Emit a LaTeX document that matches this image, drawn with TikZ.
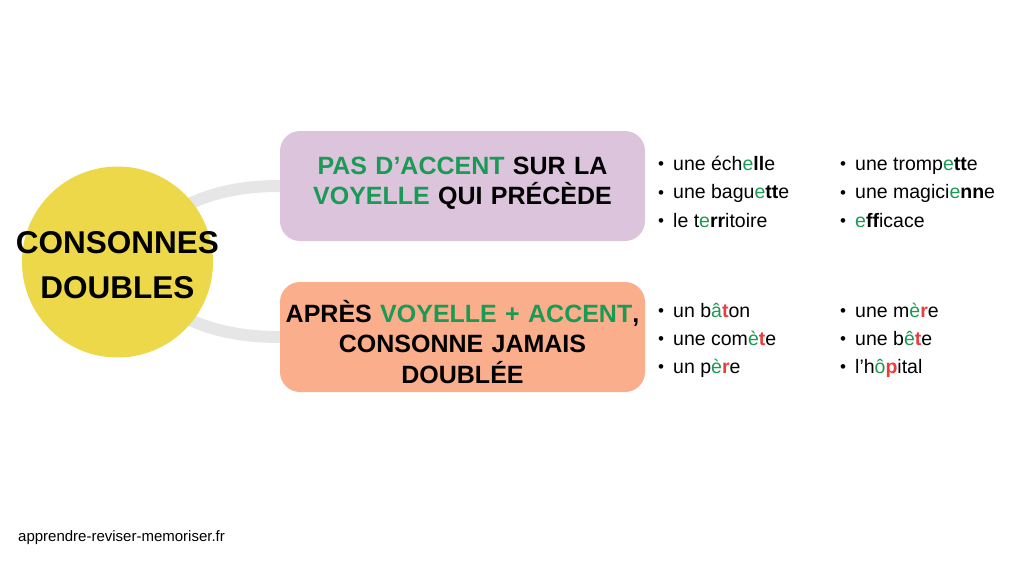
\documentclass[tikz,border=0pt]{standalone}
\usepackage{fontspec}
\setmainfont{Liberation Sans}
\usetikzlibrary{backgrounds}

\definecolor{grn}{HTML}{1A9A55}
\definecolor{rd}{HTML}{EE3B3B}
\definecolor{ylw}{HTML}{EDD84A}
\definecolor{prp}{HTML}{DDC4DD}
\definecolor{org}{HTML}{FBAE8B}
\definecolor{lnk}{HTML}{E6E6E6}

\newcommand{\voy}[1]{\textcolor{grn}{#1}}
\newcommand{\dbl}[1]{\textbf{#1}}
\newcommand{\sgl}[1]{\textcolor{rd}{\textbf{#1}}}
\newcommand{\itm}{\makebox[15pt][l]{\raisebox{0.5pt}{\fontsize{17}{17}\selectfont\textbullet}}}

\begin{document}
\begin{tikzpicture}[x=1pt, y=-1pt,
    rule/.style={rounded corners=20pt, minimum width=365pt, minimum height=110pt},
    head/.style={text width=355pt, align=center, font=\fontsize{25}{30.5}\selectfont\bfseries},
    item/.style={anchor=base west, inner sep=0pt, font=\fontsize{19.5}{24}\selectfont},
    link/.style={line width=12pt, draw=lnk}]
  \useasboundingbox (0,0) rectangle (1024,576);

  \node[circle, fill=ylw, minimum size=191pt, inner sep=0pt] (CD) at (117.5,262) {};
  \node[align=center, font=\fontsize{31.5}{45}\selectfont\bfseries] (CDt) at ([yshift=-3pt]CD.center) {CONSONNES\\DOUBLES};

  \node[rule, fill=prp] (PA) at (462.5,186) {};
  \node[head] (PAt) at ([yshift=3pt]PA.center) {\voy{PAS D’ACCENT} SUR LA\\\voy{VOYELLE} QUI PRÉCÈDE};
  \node[rule, fill=org] (AV) at (462.5,337) {};
  \node[head] (AVt) at ([yshift=-5pt]AV.center) {APRÈS \voy{VOYELLE + ACCENT},\\CONSONNE JAMAIS\\DOUBLÉE};

  \begin{scope}[on background layer]
    \draw[link] (CD.center) to[out=50, in=180] (PA.west);
    \draw[link] (CD.center) to[out=-50, in=180] (AV.west);
  \end{scope}

  % exemples sans accent
  \foreach \w [count=\i from 0] in {une éch\voy{e}\dbl{ll}e, une bagu\voy{e}\dbl{tt}e, le t\voy{e}\dbl{rr}itoire}
    \node[item] (PAa\i) at (658,170+28.5*\i) {\itm\w};
  \foreach \w [count=\i from 0] in {une tromp\voy{e}\dbl{tt}e, une magici\voy{e}\dbl{nn}e, \voy{e}\dbl{ff}icace}
    \node[item] (PAb\i) at (840,170+28.5*\i) {\itm\w};

  % exemples avec accent
  \foreach \w [count=\i from 0] in {un b\voy{â}\sgl{t}on, une com\voy{è}\sgl{t}e, un p\voy{è}\sgl{r}e}
    \node[item] (AVa\i) at (658,317+28*\i) {\itm\w};
  \foreach \w [count=\i from 0] in {une m\voy{è}\sgl{r}e, une b\voy{ê}\sgl{t}e, l’h\voy{ô}\sgl{p}ital}
    \node[item] (AVb\i) at (840,317+28*\i) {\itm\w};

  \node[anchor=base west, inner sep=0pt, font=\fontsize{15}{18}\selectfont] (FT) at (18,541) {apprendre-reviser-memoriser.fr};
\end{tikzpicture}
\end{document}
